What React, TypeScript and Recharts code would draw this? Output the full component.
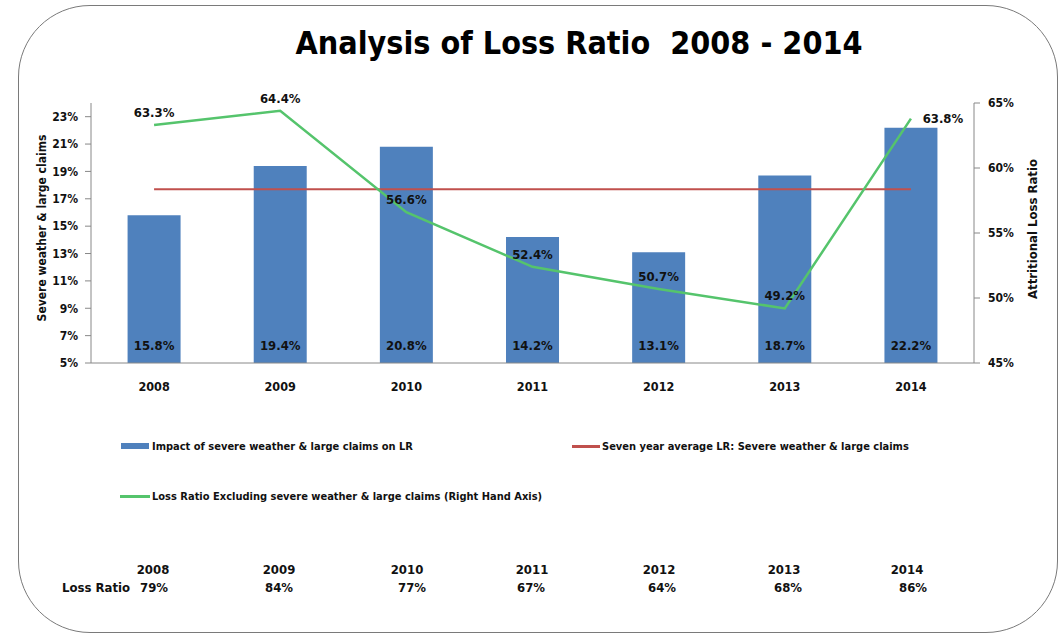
import React from 'react';
import { ComposedChart, Bar, Line, XAxis, YAxis, LabelList } from 'recharts';

// years shown on the x axis and in the table below
const years = ['2008', '2009', '2010', '2011', '2012', '2013', '2014'];
// impact of severe weather & large claims on LR (left axis, %)
const severeImpact = [15.8, 19.4, 20.8, 14.2, 13.1, 18.7, 22.2];
// seven year average of the above (left axis, %)
const sevenYearAvg = [17.7, 17.7, 17.7, 17.7, 17.7, 17.7, 17.7];
// loss ratio excluding severe weather & large claims (right axis, %)
const lossRatioEx = [63.3, 64.4, 56.6, 52.4, 50.7, 49.2, 63.8];
// total loss ratio row under the chart
const lossRatioTotal = [79, 84, 77, 67, 64, 68, 86];

const leftTicks = [5, 7, 9, 11, 13, 15, 17, 19, 21, 23];
const rightTicks = [45, 50, 55, 60, 65];

// table column centres (years / values are not quite aligned in the original)
const yearCentres = [153, 279, 407, 532, 659, 784, 907];
const valueCentres = [154, 279, 412, 531, 662, 788, 913];

const FONT = "'DejaVu Sans Condensed', 'Liberation Sans', Arial, sans-serif";
const GREEN = '#55C46C';
const RED = '#C0504D';
const BLUE = '#4F81BD';

const chartData = years.map((year, i) => ({
  year,
  impact: severeImpact[i],
  avg: sevenYearAvg[i],
  lrEx: lossRatioEx[i],
}));

const pct = (v: number) => `${v}%`;

// line labels sit above the points, the last one goes to the right
const renderLineLabel = (props: any) => {
  const { x, y, value, index } = props;
  const last = index === years.length - 1;
  return (
    <text
      x={last ? x + 32 : x}
      y={last ? y + 4 : y - 8}
      textAnchor="middle"
      fontFamily={FONT}
      fontWeight="bold"
      fontSize={13}
      fill="#111"
    >
      {`${Number(value).toFixed(1)}%`}
    </text>
  );
};

const tickStyle = { fontFamily: FONT, fontWeight: 'bold', fontSize: 12, fill: '#111' };

const legendRow: React.CSSProperties = {
  position: 'absolute',
  fontSize: 11,
  fontWeight: 'bold',
  display: 'flex',
  alignItems: 'center',
  whiteSpace: 'nowrap',
  height: 16,
};

const App: React.FC = () => {
  return (
    <div
      style={{
        position: 'fixed',
        left: 0,
        top: 0,
        width: 1063,
        height: 638,
        background: '#fff',
        fontFamily: FONT,
        color: '#111',
      }}
    >
      <div
        style={{
          position: 'absolute',
          left: 18,
          top: 5,
          width: 1040,
          height: 628,
          border: '1.5px solid #7a7a7a',
          borderRadius: 72,
          boxSizing: 'border-box',
        }}
      />
      <div
        style={{
          position: 'absolute',
          left: 0,
          width: 1063,
          top: 24,
          textAlign: 'center',
          paddingLeft: 95,
          boxSizing: 'border-box',
          fontSize: 32,
          fontWeight: 'bold',
          color: '#000',
          whiteSpace: 'pre',
        }}
      >
        {'Analysis of Loss Ratio  2008 - 2014'}
      </div>

      <div style={{ position: 'absolute', left: 0, top: 0 }}>
        <ComposedChart
          width={1063}
          height={400}
          data={chartData}
          margin={{ top: 103, right: 29, left: 31, bottom: 7 }}
          barCategoryGap="29%"
        >
          <XAxis
            dataKey="year"
            tickLine={false}
            tickMargin={13}
            height={30}
            stroke="#888"
            tick={{ ...tickStyle, fontSize: 12.5 }}
          />
          <YAxis
            yAxisId="left"
            width={60}
            domain={[5, 24]}
            ticks={leftTicks}
            tickFormatter={pct}
            allowDataOverflow
            stroke="#888"
            tickSize={6}
            tickMargin={7}
            tick={tickStyle}
          />
          <YAxis
            yAxisId="right"
            orientation="right"
            width={60}
            domain={[45, 65]}
            ticks={rightTicks}
            tickFormatter={pct}
            allowDataOverflow
            stroke="#888"
            tickSize={6}
            tickMargin={8}
            tick={tickStyle}
          />
          <Bar yAxisId="left" dataKey="impact" fill={BLUE} isAnimationActive={false}>
            <LabelList
              dataKey="impact"
              position="insideBottom"
              offset={13}
              formatter={(v: any) => `${Number(v).toFixed(1)}%`}
              style={{ fontFamily: FONT, fontWeight: 'bold', fontSize: 13, fill: '#111' }}
            />
          </Bar>
          <Line
            yAxisId="left"
            dataKey="avg"
            stroke={RED}
            strokeWidth={2}
            dot={false}
            isAnimationActive={false}
          />
          <Line
            yAxisId="right"
            dataKey="lrEx"
            type="linear"
            stroke={GREEN}
            strokeWidth={2.5}
            dot={false}
            isAnimationActive={false}
          >
            <LabelList dataKey="lrEx" content={renderLineLabel} />
          </Line>
        </ComposedChart>
      </div>

      {/* axis titles */}
      <div
        style={{
          position: 'absolute',
          left: 42,
          top: 228,
          transform: 'translate(-50%, -50%) rotate(-90deg)',
          whiteSpace: 'nowrap',
          fontSize: 12,
          fontWeight: 'bold',
        }}
      >
        Severe weather &amp; large claims
      </div>
      <div
        style={{
          position: 'absolute',
          left: 1032,
          top: 229,
          transform: 'translate(-50%, -50%) rotate(-90deg)',
          whiteSpace: 'nowrap',
          fontSize: 13,
          fontWeight: 'bold',
        }}
      >
        Attritional Loss Ratio
      </div>

      {/* legend */}
      <div style={{ ...legendRow, left: 121, top: 438 }}>
        <span style={{ display: 'inline-block', width: 28, height: 6, background: BLUE, marginRight: 3 }} />
        Impact of severe weather &amp; large claims on LR
      </div>
      <div style={{ ...legendRow, left: 572, top: 438 }}>
        <span style={{ display: 'inline-block', width: 28, height: 3, background: RED, marginRight: 2 }} />
        Seven year average LR: Severe weather &amp; large claims
      </div>
      <div style={{ ...legendRow, left: 120, top: 488 }}>
        <span style={{ display: 'inline-block', width: 30, height: 3, background: GREEN, marginRight: 2 }} />
        Loss Ratio Excluding severe weather &amp; large claims (Right Hand Axis)
      </div>

      {/* loss ratio table */}
      <div style={{ position: 'absolute', left: 62, top: 580, fontSize: 13, fontWeight: 'bold' }}>Loss Ratio</div>
      {years.map((y, i) => (
        <React.Fragment key={y}>
          <div
            style={{
              position: 'absolute',
              left: yearCentres[i] - 30,
              width: 60,
              top: 562,
              textAlign: 'center',
              fontSize: 13,
              fontWeight: 'bold',
            }}
          >
            {y}
          </div>
          <div
            style={{
              position: 'absolute',
              left: valueCentres[i] - 30,
              width: 60,
              top: 580,
              textAlign: 'center',
              fontSize: 13,
              fontWeight: 'bold',
            }}
          >
            {`${lossRatioTotal[i]}%`}
          </div>
        </React.Fragment>
      ))}
    </div>
  );
};

export default App;
